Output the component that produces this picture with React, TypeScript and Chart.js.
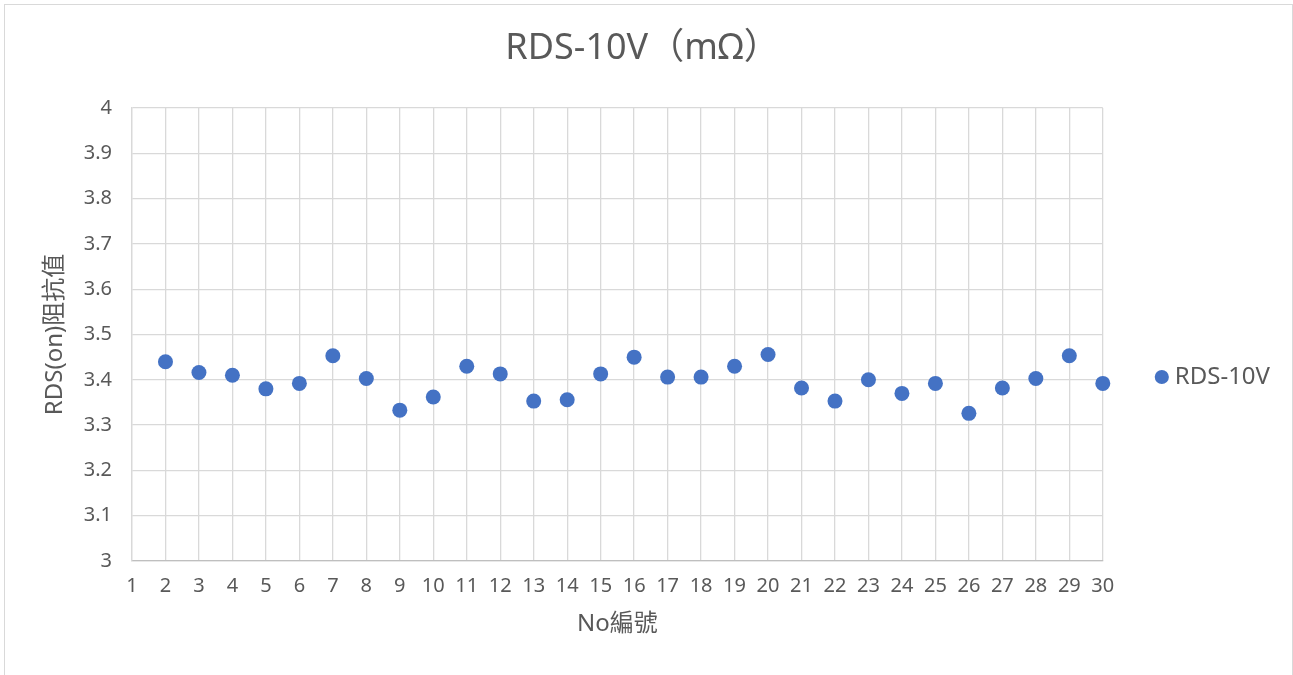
import React, { useEffect, useRef } from "react";
import { Chart, registerables } from "chart.js";

Chart.register(...registerables);

const sampleNo: number[] = [2, 3, 4, 5, 6, 7, 8, 9, 10, 11, 12, 13, 14, 15, 16, 17, 18, 19, 20, 21, 22, 23, 24, 25, 26, 27, 28, 29, 30];
const rdsValues: number[] = [3.44, 3.416, 3.41, 3.38, 3.392, 3.453, 3.403, 3.333, 3.362, 3.43, 3.413, 3.353, 3.356, 3.413, 3.45, 3.406, 3.406, 3.43, 3.456, 3.382, 3.353, 3.4, 3.37, 3.392, 3.326, 3.382, 3.403, 3.453, 3.392];
const seriesName = "RDS-10V";
const chartTitle = "RDS-10V（mΩ）";
const xTitle = "No編號";
const yTitle = "RDS(on)阻抗值";
const xRange: number[] = [1, 30];
const yRange: number[] = [3, 4];

const FONT = "'Noto Sans', 'Noto Sans CJK TC', sans-serif";
const TEXT = "#595959";

export default function App() {
  const ref = useRef<HTMLCanvasElement | null>(null);

  useEffect(() => {
    if (!ref.current) return;
    const chart = new Chart(ref.current, {
      type: "scatter",
      data: {
        datasets: [
          {
            label: seriesName,
            data: sampleNo.map((x, i) => ({ x, y: rdsValues[i] })),
            backgroundColor: "#4472c4",
            borderColor: "#4472c4",
            borderWidth: 0,
            pointRadius: 7.5,
            pointHoverRadius: 7.5,
            clip: false,
          },
        ],
      },
      options: {
        responsive: false,
        animation: false,
        devicePixelRatio: 1,
        layout: { padding: { left: 0, right: 12, top: 0, bottom: 0 } },
        plugins: {
          tooltip: { enabled: false },
          title: {
            display: true,
            text: chartTitle,
            color: TEXT,
            font: { family: FONT, size: 36, weight: "normal" },
            padding: { top: 22, bottom: 37.8 },
          },
          legend: {
            display: true,
            position: "right",
            labels: {
              usePointStyle: true,
              pointStyle: "circle",
              boxWidth: 2,
              boxHeight: 10,
              padding: 58,
              color: TEXT,
              font: { family: FONT, size: 24 },
            },
          },
        },
        scales: {
          x: {
            type: "linear",
            min: xRange[0],
            max: xRange[1],
            afterFit: (s: any) => {
              s.height = 188;
            },
            ticks: {
              stepSize: 1,
              padding: 13,
              color: TEXT,
              font: { family: FONT, size: 20 },
              maxRotation: 0,
              autoSkip: false,
              callback: (v: any) => String(Math.round(Number(v))),
            },
            grid: { color: "#d9d9d9", lineWidth: 1.3, drawTicks: false },
            border: { color: "#bfbfbf", width: 1.3 },
            title: {
              display: true,
              text: xTitle,
              color: TEXT,
              font: { family: FONT, size: 24 },
              padding: { top: 0, bottom: 110.6 },
            },
          },
          y: {
            type: "linear",
            min: yRange[0],
            max: yRange[1],
            afterFit: (s: any) => {
              s.width = 127;
            },
            ticks: {
              stepSize: 0.1,
              padding: 20,
              color: TEXT,
              font: { family: FONT, size: 20 },
              callback: (v: any) => String(Number(Number(v).toFixed(2))),
            },
            grid: { color: "#d9d9d9", lineWidth: 1.3, drawTicks: false },
            border: { color: "#d9d9d9", width: 1.3 },
            title: {
              display: true,
              text: yTitle,
              color: TEXT,
              font: { family: FONT, size: 24 },
              padding: { top: 35.6, bottom: 0 },
            },
          },
        },
      },
    });
    return () => chart.destroy();
  }, []);

  return (
    <div style={{ position: "fixed", left: 0, top: 0, width: 1293, height: 675, overflow: "hidden", background: "#fff" }}>
      <div
        style={{
          position: "absolute",
          left: 4,
          top: 4,
          width: 1287,
          height: 744,
          border: "1px solid #d9d9d9",
          background: "#fff",
        }}
      >
        <canvas ref={ref} width={1287} height={744} style={{ display: "block" }} />
      </div>
    </div>
  );
}
